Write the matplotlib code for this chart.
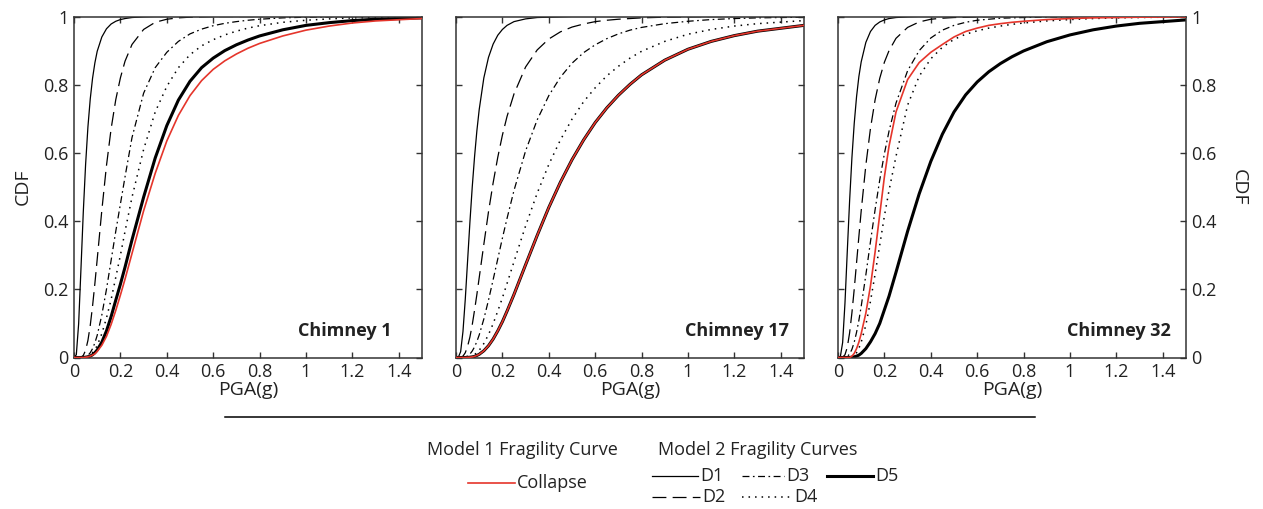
import matplotlib
matplotlib.use("Agg")
import matplotlib.pyplot as plt
from matplotlib.lines import Line2D

PGA = [0, 0.01, 0.02, 0.03, 0.04, 0.05, 0.06, 0.07, 0.08, 0.09, 0.1, 0.12, 0.14, 0.16,
       0.18, 0.2, 0.22, 0.25, 0.3, 0.35, 0.4, 0.45, 0.5, 0.55, 0.6, 0.65, 0.7, 0.75,
       0.8, 0.9, 1.0, 1.1, 1.2, 1.3, 1.5]

XTICKS = [0, 0.2, 0.4, 0.6, 0.8, 1.0, 1.2, 1.4]
YTICKS = [0, 0.2, 0.4, 0.6, 0.8, 1.0]
CURVES = ["D1", "D2", "D3", "D4", "D5", "Collapse"]
CHIMNEYS = ["Chimney 1", "Chimney 17", "Chimney 32"]

chimney1 = {
    "D1": [0, .008, .099, .26, .426, .566, .676, .758, .819, .864, .898, .94, .964, .978,
           .986, .991, .994, .997, .999, 1, 1, 1, 1, 1, 1, 1, 1, 1, 1, 1, 1, 1, 1, 1, 1],
    "D2": [0, 0, 0, .001, .006, .021, .05, .094, .151, .217, .288, .432, .563, .671,
           .756, .82, .869, .918, .962, .983, .992, .996, .998, .999, 1, 1, 1, 1, 1, 1, 1, 1, 1, 1, 1],
    "D3": [0, 0, 0, 0, .0005, .002, .006, .014, .026, .043, .065, .125, .2, .285,
           .37, .45, .53, .645, .775, .85, .895, .927, .949, .963, .973, .98, .985, .989,
           .992, .996, .998, .999, 1, 1, 1],
    "D4": [0, 0, 0, 0, 0, .001, .003, .007, .014, .023, .035, .07, .116, .17,
           .235, .3, .37, .47, .61, .72, .795, .85, .888, .914, .932, .946, .957, .966,
           .973, .983, .989, .993, .996, .997, .999],
    "D5": [0, 0, 0, 0, 0, .001, .002, .004, .008, .014, .022, .045, .078, .12,
           .168, .215, .265, .345, .47, .585, .68, .755, .81, .85, .878, .9, .917, .931,
           .943, .961, .974, .982, .988, .992, .996],
    "Collapse": [0, 0, 0, 0, 0, .001, .002, .004, .007, .011, .018, .036, .062, .097,
                 .138, .183, .23, .305, .43, .54, .635, .71, .768, .812, .845, .87, .89, .907,
                 .921, .943, .96, .972, .981, .987, .994],
}

chimney17 = {
    "D1": [0, .0005, .017, .076, .171, .284, .397, .5, .589, .665, .727, .82, .88, .919,
           .945, .962, .974, .985, .993, .997, .998, .999, 1, 1, 1, 1, 1, 1, 1, 1, 1, 1, 1, 1, 1],
    "D2": [0, 0, .0005, .004, .014, .033, .06, .096, .139, .185, .234, .332, .427, .512,
           .587, .652, .707, .773, .852, .902, .934, .955, .969, .978, .985, .989, .992, .994,
           .996, .998, .999, 1, 1, 1, 1],
    "D3": [0, 0, 0, .0003, .0014, .0044, .01, .019, .031, .047, .066, .113, .168, .228,
           .289, .35, .408, .49, .606, .697, .768, .822, .863, .894, .917, .935, .949, .96,
           .968, .979, .986, .991, .994, .996, .998],
    "D4": [0, 0, 0, 0, .0002, .0009, .002, .005, .0085, .014, .021, .041, .067, .099,
           .136, .175, .217, .281, .386, .482, .566, .638, .699, .75, .791, .826, .854, .878,
           .898, .927, .948, .962, .972, .979, .988],
    "D5": [0, 0, 0, 0, 0, .0003, .0008, .0018, .0034, .006, .0094, .0197, .0345, .054,
           .078, .105, .136, .185, .272, .358, .44, .514, .58, .638, .689, .732, .769, .801,
           .829, .872, .904, .927, .944, .957, .974],
    "Collapse": [0, 0, 0, 0, 0, .0003, .0008, .0018, .0034, .006, .0094, .0197, .0345, .054,
                 .078, .105, .136, .185, .272, .358, .44, .514, .58, .638, .689, .732, .769, .801,
                 .829, .872, .904, .927, .944, .957, .974],
}

chimney32 = {
    "D1": [0, .002, .044, .159, .311, .459, .586, .687, .765, .824, .867, .924, .956, .974,
           .984, .99, .994, .997, .999, 1, 1, 1, 1, 1, 1, 1, 1, 1, 1, 1, 1, 1, 1, 1, 1],
    "D2": [0, 0, .001, .008, .03, .072, .131, .201, .278, .355, .43, .564, .672, .756,
           .819, .866, .9, .936, .968, .984, .992, .995, .997, .998, .999, 1, 1, 1, 1, 1, 1, 1, 1, 1, 1],
    "D3": [0, 0, 0, .0005, .003, .01, .024, .045, .074, .109, .15, .242, .34, .434,
           .521, .598, .664, .746, .841, .9, .937, .96, .974, .983, .989, .992, .995, .996,
           .997, .999, .999, 1, 1, 1, 1],
    "D4": [0, 0, 0, 0, 0, 0, .002, .006, .014, .027, .045, .095, .165, .245,
           .33, .415, .49, .59, .74, .825, .876, .91, .933, .948, .958, .966, .972, .977,
           .981, .987, .991, .994, .996, .997, .999],
    "D5": [0, 0, 0, 0, 0, 0, .001, .002, .004, .007, .012, .026, .046, .07,
           .1, .14, .18, .25, .37, .48, .575, .655, .72, .77, .808, .838, .862, .882,
           .899, .926, .946, .961, .972, .98, .99],
    "Collapse": [0, 0, 0, 0, 0, 0, .004, .012, .026, .045, .07, .13, .21, .31,
                 .42, .53, .62, .72, .815, .865, .895, .918, .94, .956, .966, .974, .979, .983,
                 .986, .991, .994, .996, .997, .998, .999],
}

plt.rcParams['font.family'] = ['Open Sans', 'DejaVu Sans']
plt.rcParams['lines.scale_dashes'] = False
TXT = "#222222"

STYLES = {
    "D1": dict(color="black", lw=0.9, ls="-"),
    "D2": dict(color="black", lw=0.9, ls=(0, (10, 4.5))),
    "D3": dict(color="black", lw=0.9, ls=(0, (5, 2.5, 1.2, 2.5))),
    "D4": dict(color="black", lw=1.1, ls=(0, (1.1, 3.6))),
    "D5": dict(color="black", lw=2.2, ls="-"),
    "Collapse": dict(color="#e5352b", lw=1.2, ls="-"),
}

fig = plt.figure(figsize=(12.63, 5.09), dpi=100)
W, H = 1263, 509

lefts = [74 / W, 456 / W, 838 / W]
label_x = [0.914, 0.957, 0.957]
for i, data in enumerate([chimney1, chimney17, chimney32]):
    ax = fig.add_axes([lefts[i], 1 - 357.5 / H, 348 / W, 341 / H])
    for key in CURVES:
        ax.plot(PGA, data[key], **STYLES[key], zorder=3 if key == "Collapse" else 2)
    ax.set_xlim(0, 1.5)
    ax.set_ylim(0, 1)
    ax.set_xticks(XTICKS)
    ax.set_xticklabels(["{:g}".format(t) for t in XTICKS])
    ax.set_yticks(YTICKS)
    ax.set_yticklabels(["{:g}".format(t) for t in YTICKS])
    ax.tick_params(direction="in", top=True, right=True, length=4, width=1,
                   labelsize=13, colors="#333333", labelcolor=TXT, pad=4)
    for sp in ax.spines.values():
        sp.set_linewidth(1.1)
        sp.set_color("#333333")
    ax.set_xlabel("PGA(g)", fontsize=14, color=TXT, labelpad=0)
    if i == 0:
        ax.set_ylabel("CDF", fontsize=14, color=TXT, labelpad=8)
    elif i == 1:
        ax.tick_params(labelleft=False)
    else:
        ax.tick_params(labelleft=False, labelright=True)
        ax.yaxis.set_label_position("right")
        ax.set_ylabel("CDF", fontsize=14, color=TXT, rotation=-90, labelpad=22)
    ax.text(label_x[i], 0.077, CHIMNEYS[i], transform=ax.transAxes, ha="right",
            va="center", fontsize=13, fontweight="bold", color=TXT)

# separator line under the panels
fig.add_artist(Line2D([225 / W, 1035 / W], [1 - 417 / H, 1 - 417 / H],
                      color="black", lw=1.1))


def fx(px):
    return px / W


def fy(py):
    return 1 - py / H


fig.text(fx(427), fy(450), "Model 1 Fragility Curve", fontsize=13, color=TXT, va="center")
fig.text(fx(658), fy(450), "Model 2 Fragility Curves", fontsize=13, color=TXT, va="center")

legend_items = [
    ("Collapse", 468, 515, 483),
    ("D1", 652, 698, 476),
    ("D3", 742, 784, 476),
    ("D5", 827, 873, 476),
    ("D2", 652, 700, 497),
    ("D4", 742, 792, 497),
]
for key, x0, x1, y in legend_items:
    fig.add_artist(Line2D([fx(x0), fx(x1)], [fy(y), fy(y)], **STYLES[key]))
    fig.text(fx(x1 + 2), fy(y), key, fontsize=13, color=TXT, va="center")

fig.savefig("out.png", dpi=100)
